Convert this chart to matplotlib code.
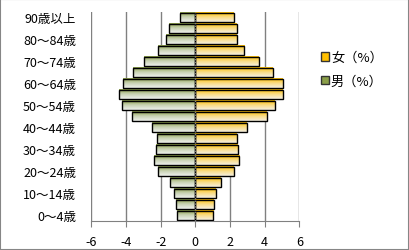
import numpy as np
import matplotlib.pyplot as plt
from matplotlib.colors import LinearSegmentedColormap
from matplotlib.patches import Patch, Rectangle

plt.rcParams['font.family'] = ['Noto Sans CJK JP', 'DejaVu Sans']

ages = ['0～4歳', '5～9歳', '10～14歳', '15～19歳', '20～24歳', '25～29歳',
        '30～34歳', '35～39歳', '40～44歳', '45～49歳', '50～54歳', '55～59歳',
        '60～64歳', '65～69歳', '70～74歳', '75～79歳', '80～84歳', '85～89歳',
        '90歳以上']
male = [1.04, 1.10, 1.21, 1.44, 2.13, 2.36, 2.28, 2.19, 2.48, 3.63,
        4.22, 4.38, 4.15, 3.57, 2.97, 2.13, 1.71, 1.50, 0.86]
female = [1.04, 1.09, 1.21, 1.50, 2.25, 2.54, 2.48, 2.42, 3.00, 4.15,
          4.61, 5.07, 5.07, 4.50, 3.69, 2.83, 2.42, 2.42, 2.25]
xticks = [-6, -4, -2, 0, 2, 4, 6]

cm_male = LinearSegmentedColormap.from_list('m', ['#eef0ec', '#c9d3b4', '#8a9e48'])
cm_female = LinearSegmentedColormap.from_list('f', ['#f6f0e0', '#f9dc86', '#ffc000'])

fig = plt.figure(figsize=(4.09, 2.51), dpi=100)
ax = fig.add_axes([91.3 / 409, 29 / 251, 208 / 409, 209 / 251])

grad = np.linspace(0, 1, 30).reshape(-1, 1)
h = 0.9
y = np.arange(len(ages))
for i in range(len(ages)):
    y0, y1 = y[i] - h / 2, y[i] + h / 2
    ax.imshow(grad, extent=[-male[i], 0, y0, y1], aspect='auto', cmap=cm_male,
              origin='lower', zorder=2, interpolation='bilinear')
    ax.imshow(grad, extent=[0, female[i], y0, y1], aspect='auto', cmap=cm_female,
              origin='lower', zorder=2, interpolation='bilinear')
ax.barh(y, [-m for m in male], height=h, fill=False, edgecolor='black', linewidth=1, zorder=3)
ax.barh(y, female, height=h, fill=False, edgecolor='black', linewidth=1, zorder=3)

ax.set_xlim(-6, 6)
ax.set_ylim(-0.5, len(ages) - 0.5)
ax.set_xticks(xticks)
ax.set_xticklabels([str(t) for t in xticks], fontsize=9)
ax.set_yticks(y[::2])
ax.set_yticklabels(ages[::2], fontsize=9)
ax.tick_params(axis='y', length=0, pad=11)
ax.tick_params(axis='x', length=4, color='#808080', pad=6)
for t in xticks:
    ax.axvline(t, color='#808080', linewidth=1, zorder=1)
ax.axvline(0, color='#808080', linewidth=1, zorder=4, linestyle=(0, (1, 1)))
for s in ['top', 'right', 'left']:
    ax.spines[s].set_visible(False)
ax.spines['bottom'].set_color('#808080')

handles = [Patch(facecolor='#ffc000', edgecolor='#333333', label='女（%）'),
           Patch(facecolor='#8a9e48', edgecolor='#333333', label='男（%）')]
fig.legend(handles=handles, loc='upper left', bbox_to_anchor=(321 / 409, 1 - 52 / 251),
           frameon=False, fontsize=9.5, handlelength=0.6, handleheight=0.6,
           handletextpad=0.15, labelspacing=0.8, borderpad=0, borderaxespad=0)

fig.patches.append(Rectangle((0, 0), 1, 1, transform=fig.transFigure, fill=False,
                             edgecolor='#868686', linewidth=1.5))
fig.savefig('out.png', dpi=100)
